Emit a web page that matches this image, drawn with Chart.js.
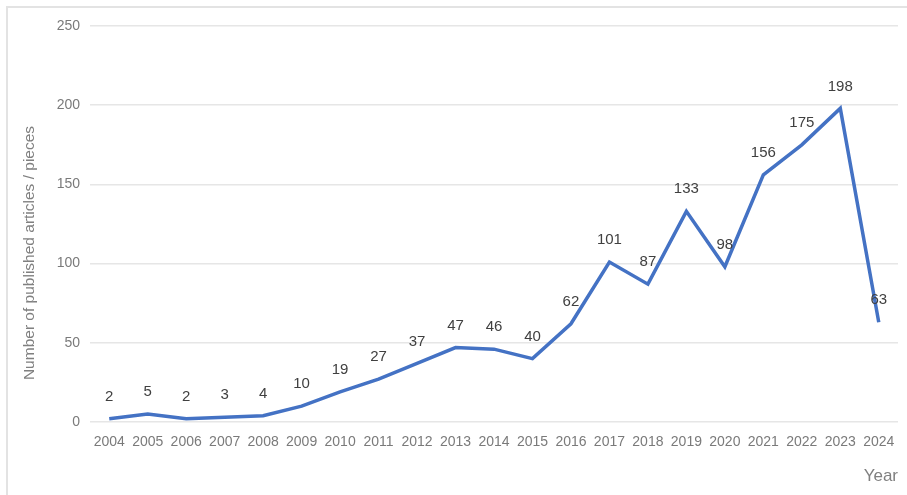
<!DOCTYPE html>
<html>
<head>
<meta charset="utf-8">
<script src="https://cdn.jsdelivr.net/npm/chart.js@4"></script>
<style>
html,body{margin:0;padding:0;background:#fff;}
#wrap{position:absolute;left:0;top:0;width:907px;height:495px;}
#frame{position:absolute;left:6px;top:6px;width:920px;height:520px;border-left:2px solid #e3e3e3;border-top:2px solid #e3e3e3;box-sizing:border-box;}
canvas{position:absolute;left:0;top:0;}
</style>
</head>
<body>
<div id="wrap">
<div id="frame"></div>
<canvas id="c" width="907" height="495"></canvas>
</div>
<script>
const years = ['2004','2005','2006','2007','2008','2009','2010','2011','2012','2013','2014','2015','2016','2017','2018','2019','2020','2021','2022','2023','2024'];
const articles = [2,5,2,3,4,10,19,27,37,47,46,40,62,101,87,133,98,156,175,198,63];
const yTitle = 'Number of published articles / pieces';
const xTitle = 'Year';

const FONT = "'Liberation Sans', Arial, sans-serif";

const labelPlugin = {
  id: 'labels',
  afterDatasetsDraw(chart) {
    const ctx = chart.ctx;
    const meta = chart.getDatasetMeta(0);
    ctx.save();
    ctx.font = '15px ' + FONT;
    ctx.fillStyle = '#404040';
    ctx.textAlign = 'center';
    ctx.textBaseline = 'middle';
    meta.data.forEach((pt, i) => {
      ctx.fillText(String(articles[i]), pt.x, pt.y - 22);
    });
    ctx.restore();
  }
};

const yTitlePlugin = {
  id: 'ytitle',
  afterDraw(chart) {
    const ctx = chart.ctx;
    ctx.save();
    ctx.translate(30, 253);
    ctx.rotate(-Math.PI / 2);
    ctx.font = '15.5px ' + FONT;
    ctx.fillStyle = '#808080';
    ctx.textAlign = 'center';
    ctx.textBaseline = 'middle';
    ctx.fillText(yTitle, 0, 0);
    ctx.restore();
  }
};

new Chart(document.getElementById('c'), {
  type: 'line',
  data: {
    labels: years,
    datasets: [{
      data: articles,
      borderColor: '#4472C4',
      borderWidth: 3.5,
      pointRadius: 0,
      tension: 0,
      fill: false
    }]
  },
  options: {
    responsive: false,
    animation: false,
    devicePixelRatio: 1,
    layout: { padding: { left: 0, right: 9, top: 26, bottom: 8 } },
    plugins: { legend: { display: false }, tooltip: { enabled: false } },
    scales: {
      x: {
        offset: true,
        grid: { display: false, drawTicks: false },
        border: { display: false },
        ticks: { color: '#7a7a7a', font: { size: 14, family: FONT }, padding: 12, maxRotation: 0, autoSkip: false },
        title: { display: true, text: xTitle, align: 'end', color: '#808080', font: { size: 17, family: FONT }, padding: { top: 0, bottom: 0 } },
        afterFit(s) { s.height = 495 - 8 - 422; }
      },
      y: {
        min: 0, max: 250,
        grid: { color: '#e6e6e6', lineWidth: 1.5, drawTicks: false },
        border: { display: false },
        ticks: { stepSize: 50, color: '#7a7a7a', font: { size: 14, family: FONT }, padding: 10 },
        afterFit(s) { s.width = 90; }
      }
    }
  },
  plugins: [labelPlugin, yTitlePlugin]
});
</script>
</body>
</html>
